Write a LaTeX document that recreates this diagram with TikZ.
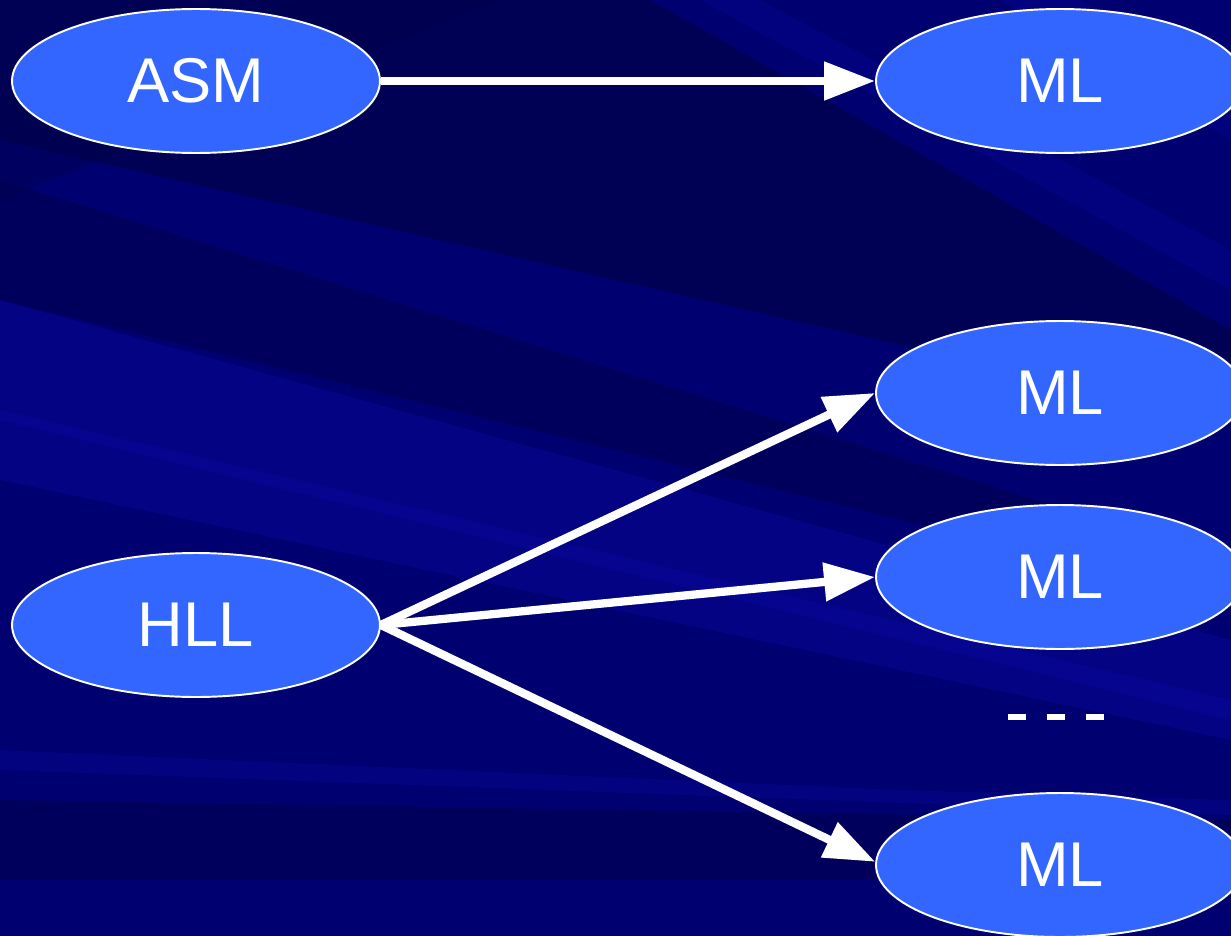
\documentclass[tikz,border=0pt]{standalone}
\usepackage{fontspec}
\setmainfont{Liberation Sans}
\usetikzlibrary{arrows.meta,shapes.geometric}
\definecolor{navy}{HTML}{000070}
\definecolor{navydark}{HTML}{00004A}
\definecolor{streak}{HTML}{0A0AA8}
\definecolor{nodeblue}{HTML}{3366FF}
\tikzset{
  lang/.style={ellipse, draw=white, line width=1.1pt, fill=nodeblue, text=white,
    minimum width=7.36cm, minimum height=2.88cm, inner sep=0pt, font=\fontsize{36}{40}\selectfont},
  conn/.style={draw=white, line width=4.7pt, -{Triangle[length=1.02cm,width=0.74cm]}},
  dashmark/.style={draw=white, line width=3.6pt}
}
\begin{document}
\begin{tikzpicture}[x=0.02cm,y=-0.02cm]
\useasboundingbox (0,0) rectangle (1231,936);
\begin{scope}
\clip (0,0) rectangle (1231,936);
\fill[navy] (0,0) rectangle (1231,936);
\fill[navydark, opacity=0.7] (0,0) -- (650,0) -- (1231,330) -- (1231,420) -- (0,140) -- cycle;
\fill[navydark, opacity=0.5] (0,180) -- (1231,560) -- (1231,600) -- (0,300) -- cycle;
\fill[navydark, opacity=0.4] (0,100) -- (300,0) -- (500,0) -- (0,200) -- cycle;
\fill[streak, opacity=0.35] (0,300) -- (1231,640) -- (1231,720) -- (0,420) -- cycle;
\fill[streak, opacity=0.35] (0,410) -- (1231,700) -- (1231,740) -- (0,480) -- cycle;
\fill[streak, opacity=0.25] (700,0) -- (760,0) -- (1231,250) -- (1231,290) -- cycle;
\fill[streak, opacity=0.25] (1000,0) -- (1080,0) -- (1231,80) -- (1231,140) -- cycle;
\fill[navydark, opacity=0.5] (0,800) -- (1231,820) -- (1231,880) -- (0,880) -- cycle;
\fill[streak, opacity=0.3] (0,750) -- (900,790) -- (1231,800) -- (1231,815) -- (0,770) -- cycle;
\end{scope}

\node[lang] (asm) at (196,81) {ASM};
\node[lang] (hll) at (196,625) {HLL};
\node[lang] (ml1) at (1060,81) {ML};
\node[lang] (ml2) at (1060,393) {ML};
\node[lang] (ml3) at (1060,577) {ML};
\node[lang] (ml4) at (1060,865) {ML};

\draw[conn] (asm.east) -- (ml1.west);
\draw[conn] (hll.east) -- (ml2.west);
\draw[conn] (hll.east) -- (ml3.west);
\draw[conn] (hll.east) -- (ml4.179);

\coordinate (d1a) at (1008,717); \coordinate (d1b) at (1026,717);
\coordinate (d2a) at (1047,717); \coordinate (d2b) at (1065,717);
\coordinate (d3a) at (1086,717); \coordinate (d3b) at (1104,717);
\draw[dashmark] (d1a) -- (d1b);
\draw[dashmark] (d2a) -- (d2b);
\draw[dashmark] (d3a) -- (d3b);
\end{tikzpicture}
\end{document}
